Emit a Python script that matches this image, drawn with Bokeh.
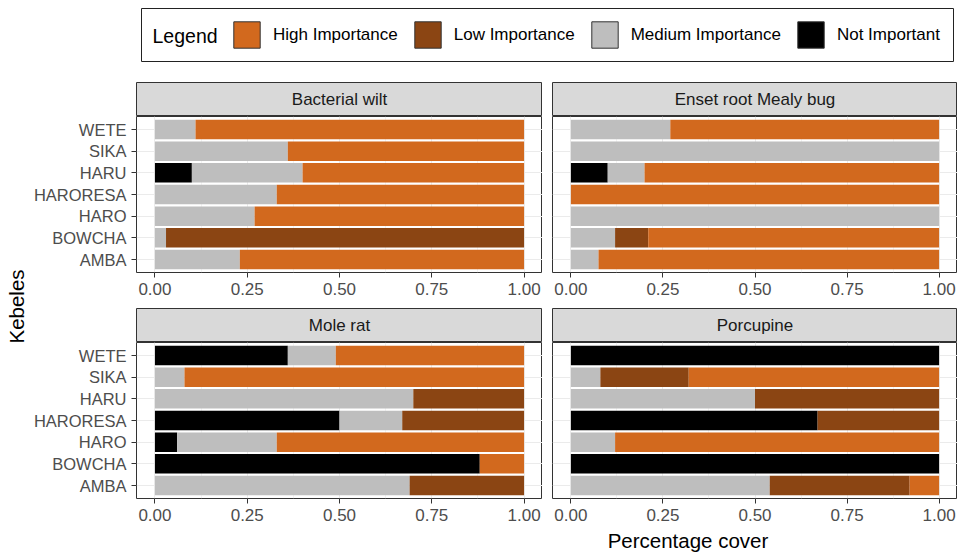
import math
from bokeh.plotting import figure
from bokeh.layouts import column, row
from bokeh.models import (ColumnDataSource, Range1d, FixedTicker, Legend,
                          LegendItem, Label)
from bokeh.embed import file_html
from bokeh.resources import INLINE

# ---------------- data ----------------
kebeles = ["AMBA", "BOWCHA", "HARO", "HARORESA", "HARU", "SIKA", "WETE"]
levels = ["Not Important", "Medium Importance", "Low Importance", "High Importance"]
legend_order = ["High Importance", "Low Importance", "Medium Importance", "Not Important"]
level_colors = ["#000000", "#BEBEBE", "#8B4513", "#D2691E"]

x_ticks = [0.0, 0.25, 0.5, 0.75, 1.0]
x_tick_labels = ["0.00", "0.25", "0.50", "0.75", "1.00"]
x_minor_ticks = [0.125, 0.375, 0.625, 0.875]

# Bacterial wilt
bw_not = [0.00, 0.00, 0.00, 0.00, 0.10, 0.00, 0.00]
bw_med = [0.23, 0.03, 0.27, 0.33, 0.30, 0.36, 0.11]
bw_low = [0.00, 0.97, 0.00, 0.00, 0.00, 0.00, 0.00]
bw_high = [0.77, 0.00, 0.73, 0.67, 0.60, 0.64, 0.89]

# Enset root Mealy bug
en_not = [0.00, 0.00, 0.00, 0.00, 0.10, 0.00, 0.00]
en_med = [0.075, 0.12, 1.00, 0.00, 0.10, 1.00, 0.27]
en_low = [0.00, 0.09, 0.00, 0.00, 0.00, 0.00, 0.00]
en_high = [0.925, 0.79, 0.00, 1.00, 0.80, 0.00, 0.73]

# Mole rat
mr_not = [0.00, 0.88, 0.06, 0.50, 0.00, 0.00, 0.36]
mr_med = [0.69, 0.00, 0.27, 0.17, 0.70, 0.08, 0.13]
mr_low = [0.31, 0.00, 0.00, 0.33, 0.30, 0.00, 0.00]
mr_high = [0.00, 0.12, 0.67, 0.00, 0.00, 0.92, 0.51]

# Porcupine
po_not = [0.00, 1.00, 0.00, 0.67, 0.00, 0.00, 1.00]
po_med = [0.54, 0.00, 0.12, 0.00, 0.50, 0.08, 0.00]
po_low = [0.38, 0.00, 0.00, 0.33, 0.50, 0.24, 0.00]
po_high = [0.08, 0.00, 0.88, 0.00, 0.00, 0.68, 0.00]

panel_titles = ["Bacterial wilt", "Enset root Mealy bug", "Mole rat", "Porcupine"]
panel_data = [
    [bw_not, bw_med, bw_low, bw_high],
    [en_not, en_med, en_low, en_high],
    [mr_not, mr_med, mr_low, mr_high],
    [po_not, po_med, po_low, po_high],
]

FONT = "Liberation Sans"
GRID = "#EBEBEB"
BORDER = "#333333"
ypos = list(range(1, len(kebeles) + 1))
color_of = dict(zip(levels, level_colors))


def make_panel(series, show_y, bottom_row):
    w = 512 if show_y else 415
    h = 184 if bottom_row else 192
    p = figure(width=w, height=h, title=None, output_backend="svg",
               toolbar_location=None,
               x_range=Range1d(-0.05, 1.05), y_range=Range1d(0.4, 7.6),
               min_border_left=106 if show_y else 10, min_border_right=0,
               min_border_top=0, min_border_bottom=28 if bottom_row else 36,
               y_axis_location="left" if show_y else None,
               background_fill_color="white", border_fill_color="white",
               outline_line_color=BORDER, outline_line_width=1)
    data = {"y": ypos}
    for lvl, vals in zip(levels, series):
        data[lvl] = vals
    src = ColumnDataSource(data)
    p.hbar_stack(levels, y="y", height=0.9, source=src,
                 fill_color=level_colors, line_color=None)

    p.xaxis.ticker = FixedTicker(ticks=x_ticks, minor_ticks=x_minor_ticks)
    p.xaxis.major_label_overrides = dict(zip(x_ticks, x_tick_labels))
    p.xaxis.axis_line_color = None
    p.xaxis.major_tick_line_color = BORDER
    p.xaxis.major_tick_out = 5
    p.xaxis.major_tick_in = 0
    p.xaxis.minor_tick_line_color = None
    p.xaxis.major_label_standoff = 5
    p.xaxis.major_label_text_font = FONT
    p.xaxis.major_label_text_font_size = "17px"
    p.xaxis.major_label_text_color = "#4D4D4D"

    p.xgrid.grid_line_color = GRID
    p.xgrid.grid_line_width = 1
    p.xgrid.minor_grid_line_color = GRID
    p.xgrid.minor_grid_line_width = 0.6
    p.ygrid.ticker = FixedTicker(ticks=ypos)
    p.ygrid.grid_line_color = GRID
    p.ygrid.grid_line_width = 1

    if show_y:
        p.yaxis.ticker = FixedTicker(ticks=ypos)
        p.yaxis.major_label_overrides = dict(zip(ypos, kebeles))
        p.yaxis.axis_line_color = None
        p.yaxis.major_tick_line_color = BORDER
        p.yaxis.major_tick_out = 5
        p.yaxis.major_tick_in = 0
        p.yaxis.minor_tick_line_color = None
        p.yaxis.major_label_standoff = 5
        p.yaxis.major_label_text_font = FONT
        p.yaxis.major_label_text_font_size = "16.5px"
        p.yaxis.major_label_text_color = "#4D4D4D"
    return p


def make_strip(text, show_y):
    w = 512 if show_y else 415
    s = figure(width=w, height=34, title=None, output_backend="svg",
               toolbar_location=None, x_axis_type=None, y_axis_type=None,
               x_range=Range1d(0, 1), y_range=Range1d(0, 1),
               min_border_left=106 if show_y else 10, min_border_right=0,
               min_border_top=0, min_border_bottom=0,
               background_fill_color="#D9D9D9", border_fill_color="white",
               outline_line_color=BORDER, outline_line_width=1)
    s.add_layout(Label(x=0.5, y=0.5, text=text, text_align="center",
                       text_baseline="middle", text_font=FONT,
                       text_font_size="17px", text_color="#1A1A1A"))
    return s


# ---------------- legend ----------------
lg = figure(width=957, height=82, title=None, output_backend="svg",
            toolbar_location=None, x_axis_type=None, y_axis_type=None,
            x_range=Range1d(0, 1), y_range=Range1d(0, 1),
            min_border_left=141, min_border_right=4, min_border_top=8,
            min_border_bottom=21, outline_line_color="#222222",
            outline_line_width=1, background_fill_color="white",
            border_fill_color="white")
# zero-size proxy bars: they only provide the legend keys
key_src = ColumnDataSource(dict(y=[0.0], left=[0.0], right=[0.0]))
items = []
for lvl in legend_order:
    r = lg.hbar(y="y", left="left", right="right", height=0.0,
                source=key_src, fill_color=color_of[lvl],
                line_color="#333333", line_width=1)
    items.append(LegendItem(label=lvl, renderers=[r]))
leg = Legend(items=items, orientation="horizontal", location=(89, 10),
             glyph_width=33, glyph_height=33, label_standoff=10, spacing=13,
             padding=0, margin=0, border_line_alpha=0,
             background_fill_alpha=0, label_text_font=FONT,
             label_text_font_size="17px", label_text_color="black")
lg.add_layout(leg)
lg.add_layout(Label(x=11, y=26, x_units="screen", y_units="screen",
                    text="Legend", text_baseline="middle", text_font=FONT,
                    text_font_size="19.5px", text_color="black"))

# ---------------- panels ----------------
strips = [make_strip(t, i % 2 == 0) for i, t in enumerate(panel_titles)]
panels = [make_panel(d, i % 2 == 0, i >= 2) for i, d in enumerate(panel_data)]

# y title
yt = figure(width=30, height=444, title=None, output_backend="svg",
            toolbar_location=None, x_axis_type=None, y_axis_type=None,
            x_range=Range1d(0, 1), y_range=Range1d(0, 1), min_border=0,
            outline_line_color=None, background_fill_color="white",
            border_fill_color="white")
yt.add_layout(Label(x=16, y=220, x_units="screen", y_units="screen",
                    text="Kebeles", angle=math.pi / 2, text_align="center",
                    text_baseline="middle", text_font=FONT,
                    text_font_size="20.5px", text_color="black"))

# x title
xt = figure(width=957, height=27, title=None, output_backend="svg",
            toolbar_location=None, x_axis_type=None, y_axis_type=None,
            x_range=Range1d(0, 1), y_range=Range1d(0, 1), min_border=0,
            outline_line_color=None, background_fill_color="white",
            border_fill_color="white")
xt.add_layout(Label(x=546.5, y=13.5, x_units="screen", y_units="screen",
                    text="Percentage cover", text_align="center",
                    text_baseline="middle", text_font=FONT,
                    text_font_size="20.5px", text_color="black"))

layout = column(
    lg,
    row(yt,
        column(strips[0], panels[0], strips[2], panels[2]),
        column(strips[1], panels[1], strips[3], panels[3])),
    xt,
)

open("out.html", "w").write(file_html(layout, INLINE, title="Kebeles"))
